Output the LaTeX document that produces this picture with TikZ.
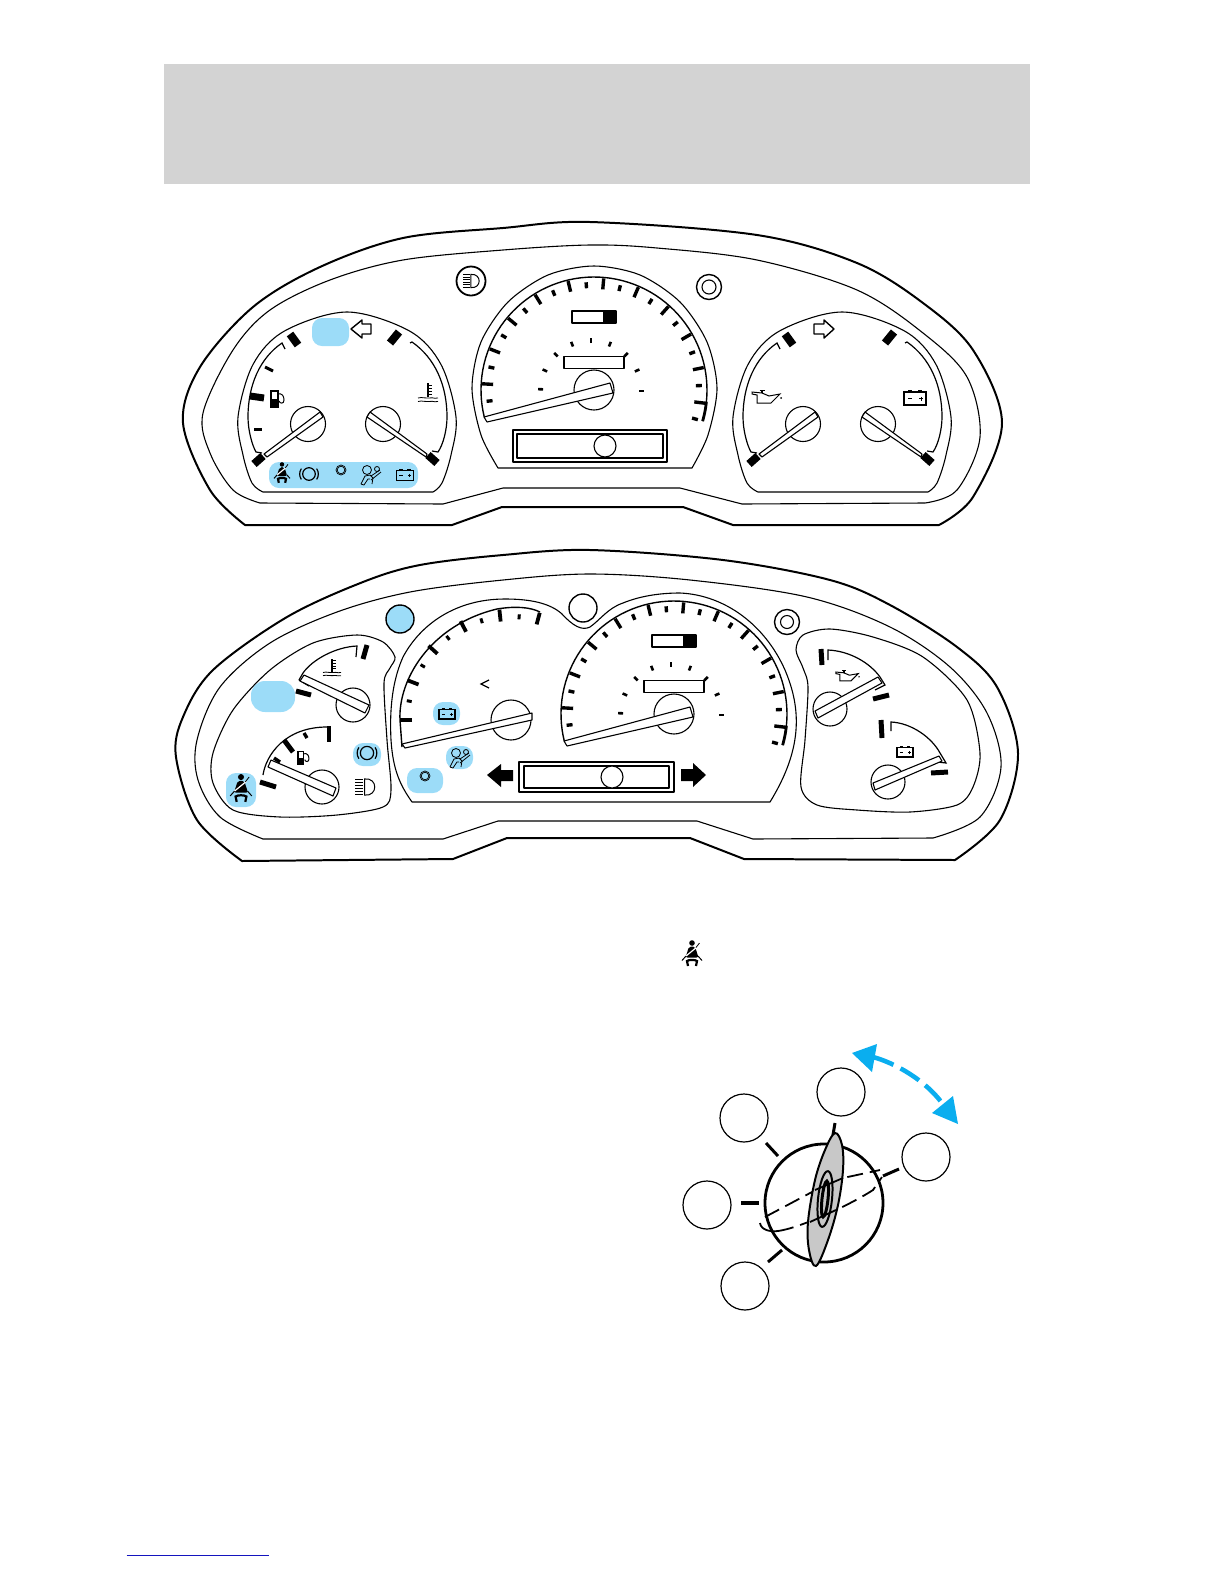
\documentclass[tikz,border=0pt]{standalone}
\usepackage{xcolor}
\usepackage{tikz}
\usetikzlibrary{arrows.meta}
\definecolor{corfaixa}{RGB}{211,211,211}
\definecolor{corazul}{RGB}{156,220,248}
\definecolor{corseta}{RGB}{10,174,239}
\definecolor{corcinza}{RGB}{200,200,200}
\definecolor{corlink}{RGB}{20,20,190}

\tikzset{
  contorno/.style={line width=1pt, line join=round},
  linha/.style={line width=.55pt, line join=round},
  eixo/.style={linha, fill=white},
  ponteiro/.style={linha, fill=white},
  escala/.style={line width=.6pt},
  marca/.style={line width=1.7pt},
  marcafina/.style={line width=1.5pt},
  bloco/.style={line width=4pt},
  fundoazul/.style={fill=corazul, rounded corners=5pt},
  raio/.style={line width=1.5pt},
  posicao/.style={circle, draw, line width=.6pt, minimum size=24bp, inner sep=0pt}
}

\newcommand{\cinto}[3]{\begin{scope}[shift={(#1,#2)},scale=#3]
  \fill (0,-12) circle (2.8);
  \fill[rounded corners=1pt] (-3,-8.5) -- (3,-8.5) -- (6.5,2.5) -- (-6.5,2.5) -- cycle;
  \draw[white,line width=.6pt] (-6,1) -- (5,-8);
  \draw[line width=.4pt] (4,-7.5) -- (7.5,-12);
  \draw[line width=.5pt] (-6,1) -- (-10,5.5);
  \draw[line width=.5pt] (6,1) -- (10,5.5);
  \draw[line width=1.1pt] (-4,11) -- (-5,6) .. controls (-3,4.5) and (3,4.5) .. (5,6) -- (4,11);
\end{scope}}
\newcommand{\freio}[3]{\begin{scope}[shift={(#1,#2)},scale=#3]
  \draw[line width=.6pt] (0,0) circle (7);
  \draw[line width=.6pt] (-8.5,6) arc[start angle=145,end angle=215,radius=10.4];
  \draw[line width=.6pt] (8.5,6) arc[start angle=35,end angle=-35,radius=10.4];
\end{scope}}
\newcommand{\abs}[2]{\draw[line width=.35pt] (#1,#2) circle (5); \draw[line width=.35pt] (#1,#2) circle (3.8);}
\newcommand{\bolsa}[3]{\begin{scope}[shift={(#1,#2)},scale=#3]
  \draw[line width=.4pt] (-4,-5) circle (4.5);
  \draw[line width=.4pt] (6,-6) circle (2.5);
  \draw[line width=.4pt] (-10,9) -- (-6,1) -- (-1,0) -- (2,3) -- (1,9);
  \draw[line width=.4pt] (-10,9) -- (-7,10) -- (-3,4) -- (-1,4);
  \draw[line width=.4pt] (0,1) -- (9,-5);
  \draw[line width=.4pt] (0,5) -- (10,-3);
\end{scope}}
\newcommand{\bateria}[3]{\begin{scope}[shift={(#1,#2)},scale=#3]
  \draw[line width=.6pt] (-11,-6) rectangle (11,7);
  \draw[line width=.8pt] (-7,-7) -- (-3,-7) (3,-7) -- (7,-7);
  \draw[line width=.5pt] (-7,0.5) -- (-3,0.5) (4,0.5) -- (8,0.5) (6,-1.5) -- (6,2.5);
\end{scope}}
\newcommand{\bomba}[3]{\begin{scope}[shift={(#1,#2)},scale=#3]
  \fill (-6.5,-.5) rectangle (1.5,8);
  \draw[line width=.6pt] (-6,-8) rectangle (1,8);
  \draw[line width=.5pt] (1,-5) .. controls (5,-6) and (7,-3) .. (7,1) .. controls (7,5) and (3,5) .. (2,2);
\end{scope}}
\newcommand{\termo}[3]{\begin{scope}[shift={(#1,#2)},scale=#3]
  \draw[line width=.7pt] (0,-10) -- (0,4);
  \draw[line width=.5pt] (0,-8) -- (4,-8) (0,-5) -- (4,-5) (0,-2) -- (4,-2) (0,1) -- (4,1);
  \draw[line width=.4pt] (-10,5) .. controls (-5,3.5) and (-3,6) .. (0,5) .. controls (3,3.5) and (5,6) .. (10,5);
  \draw[line width=.4pt] (-10,8.5) .. controls (-5,7) and (-3,9.5) .. (0,8.5) .. controls (3,7) and (5,9.5) .. (10,8.5);
\end{scope}}
\newcommand{\oleo}[3]{\begin{scope}[shift={(#1,#2)},scale=#3]
  \draw[line width=.5pt] (-14,-5) -- (-14,-3) -- (-9,-2) -- (-9,6) -- (5,6) -- (14,-3) -- (3,-1) -- (-4,-4) -- cycle;
  \draw[line width=.8pt] (-4,-6.5) -- (-4,-4);
  \draw[line width=.5pt] (-6.5,-6.5) -- (-1.5,-6.5);
  \fill (15,1) circle (1);
\end{scope}}
\newcommand{\farol}[3]{\begin{scope}[shift={(#1,#2)},scale=#3]
  \draw[line width=.5pt] (-1,-6) .. controls (9,-7) and (9,7) .. (-1,6) -- cycle;
  \foreach \yy in {-5.5,-3.2,-1,1.2,3.4,5.6}{\draw[line width=.5pt] (-8,\yy) -- (-2,\yy);}
\end{scope}}

\newcommand{\velocimetro}{
  \draw[line width=.7pt] plot[domain=194:-16,samples=70] ({594+113*cos(\x)},{390-113*sin(\x)});
  \draw[line width=1.4pt] plot[domain=-6:-16,samples=10] ({594+113*cos(\x)},{390-113*sin(\x)});
  \foreach \i in {0,...,22}{
    \pgfmathsetmacro\ang{186-9.18*\i}
    \ifodd\i
      \draw[marca] ({594+101*cos(\ang)},{390-101*sin(\ang)}) -- ({594+112*cos(\ang)},{390-112*sin(\ang)});
    \else
      \draw[marca] ({594+102*cos(\ang)},{390-102*sin(\ang)}) -- ({594+108*cos(\ang)},{390-108*sin(\ang)});
    \fi
  }
  \foreach \ang in {178,156,134,112,90,68,46,24,0}{
    \draw[line width=1.3pt] ({591+48*cos(\ang)},{391-48*sin(\ang)}) -- ({591+53*cos(\ang)},{391-53*sin(\ang)});
  }
  \draw[linha,line width=.7pt] (572,311) rectangle (616,323);
  \fill (603,311) rectangle (616,323);
  \draw[linha] (564,356.5) rectangle (624,368.5);
  \draw[eixo] (594,390) circle (20);
  \draw[ponteiro] (484,417) -- (487,422) -- (613,393) -- (610,383) -- cycle;
}

\newcommand{\capsula}{
  \draw[linha] plot[smooth,tension=.55] coordinates {(263,492) (252,483) (243,455) (238,417) (253,364.5) (284.5,331) (347,312) (409.5,331) (441,364.5) (456,417) (451,455) (442,483) (433,492)} -- cycle;
  \draw[escala] (285,349) -- (282,343) .. controls (260,358) and (248,385) .. (248,417) .. controls (248,430) and (252,445) .. (256,452) -- (262,453);
  \draw[escala] (410,343) -- (412,342) .. controls (435,358) and (447,385) .. (447,417) .. controls (447,430) and (443,445) .. (438,452) -- (432,451);
  \draw[bloco] (290,334) -- (298,345);
  \draw[bloco] (399,332) -- (390,343);
  \draw[bloco] (254,464) -- (263,456);
  \draw[bloco] (428,455) -- (437,463);
  \draw[eixo] (308,424) circle (17.5);
  \draw[eixo] (383,424) circle (17.5);
  \draw[ponteiro] (264,454) -- (267,457) -- (323,417) -- (320,412) -- cycle;
  \draw[ponteiro] (427,454) -- (426,457) -- (367,417) -- (370,412) -- cycle;
}

\begin{document}
\begin{tikzpicture}[x=.5bp,y=-.5bp]
  \useasboundingbox (0,0) rectangle (1224,1584);
  \fill[corfaixa] (164,64) rectangle (1030,184);

  \draw[contorno] plot[smooth,tension=.55] coordinates {(245,525) (210,490) (183,423) (200,367) (253,307) (320,267) (403,238) (503,228) (590,222) (757,235) (857,263) (923,303) (973,350) (1002,423) (973,497) (939,525)} -- (733,525) -- (683,507) -- (502,507) -- (452,525) -- cycle;
  \draw[linha] plot[smooth,tension=.55] coordinates {(260,503) (233,490) (210,453) (203,413) (233,350) (270,310) (330,280) (403,260) (503,250) (590,245) (657,248) (757,260) (857,290) (923,333) (967,377) (980,437) (957,490) (925,503)} -- (742,504) -- (680,488) -- (503,488) -- (443,504) -- cycle;

  \capsula
  \begin{scope}[shift={(495,0)}]
    \capsula
  \end{scope}
  \draw[marca,line width=3.5pt] (250,396) -- (264,398);
  \draw[marcafina] (254,429) -- (262,429);
  \draw[marcafina] (265,367) -- (273,371);

  \fill[fundoazul] (312,318) rectangle (349,346);
  \draw[linha,line width=.7pt] (351,329) -- (362,320) -- (362,324) -- (371,324) -- (371,334) -- (362,334) -- (362,338) -- cycle;
  \draw[linha,line width=.7pt] (834,329) -- (824,320) -- (824,324) -- (814,324) -- (814,334) -- (824,334) -- (824,338) -- cycle;
  \fill[fundoazul] (269,462) rectangle (418,488);
  \cinto{282}{474}{.8}
  \freio{309}{474}{.9}
  \abs{341}{470}
  \bolsa{371}{475}{1}
  \bateria{405}{475}{.8}
  \bomba{277}{399}{1}
  \termo{428}{393}{1}
  \oleo{766}{397}{1}
  \bateria{915}{398}{1}

  \draw[linha] plot[smooth,tension=.5] coordinates {(498,468) (481,435) (472,388) (481,342) (508,302) (548,275) (594,266) (640,275) (680,302) (707,342) (717,388) (708,435) (692,468)} -- cycle;
  \velocimetro
  \draw[linha,line width=.8pt] (513,430) rectangle (667,462);
  \draw[linha,line width=.9pt] (517,434) rectangle (663,458);
  \draw[eixo] (605,446) circle (11);
  \draw[line width=.9pt] (471,281) circle (14.5);
  \farol{472}{281}{1.1}
  \draw[line width=.7pt] (709,287) circle (12.5);
  \draw[linha] (709,287) circle (7);

  \draw[contorno] plot[smooth,tension=.55] coordinates {(242,861) (197,820) (176,757) (183,717) (213,670) (287,617) (363,582) (420,565) (503,555) (590,550) (723,560) (830,580) (890,605) (957,647) (997,687) (1018,753) (1000,820) (955,860)} -- (744,859) -- (690,838) -- (507,838) -- (453,859) -- cycle;
  \draw[linha] plot[smooth,tension=.55] coordinates {(263,839) (220,817) (198,780) (197,740) (220,687) (270,643) (337,612) (410,592) (503,580) (590,574) (690,580) (807,597) (890,627) (950,667) (987,713) (1001,767) (980,817) (933,838)} -- (753,839) -- (697,821) -- (498,821) -- (443,839) -- cycle;

  \draw[linha] plot[smooth cycle,tension=.5] coordinates {(357,635) (383,642) (395,657) (390,668) (384,683) (387,740) (391,790) (383,807) (337,815) (280,817) (233,810) (213,783) (213,753) (233,710) (270,670) (313,643)};
  \draw[linha] plot[smooth cycle,tension=.5] coordinates {(830,629) (803,635) (796,650) (803,668) (808,687) (805,740) (801,787) (817,805) (857,810) (910,812) (957,805) (973,787) (980,753) (967,700) (923,657) (873,637)};
  \draw[linha] (412,802) .. controls (400,785) and (393,770) .. (391,740) .. controls (389,700) and (395,675) .. (403,657) .. controls (420,625) and (455,599) .. (505,599) .. controls (530,599) and (550,603) .. (562,614) .. controls (573,626) and (582,631) .. (590,627) .. controls (600,620) and (608,608) .. (623,603) .. controls (640,596) and (660,593) .. (680,593) .. controls (725,595) and (765,625) .. (785,670) .. controls (802,710) and (802,750) .. (770,802) -- cycle;

  \draw[line width=.7pt] (402,747) -- (400,720) .. controls (398,680) and (430,625) .. (497,609) .. controls (515,606) and (530,607) .. (540,612);
  \foreach \i in {0,...,10}{
    \pgfmathsetmacro\ang{180-10.5*\i}
    \ifodd\i
      \draw[marcafina] ({511+101*cos(\ang)},{720-101*sin(\ang)}) -- ({511+106*cos(\ang)},{720-106*sin(\ang)});
    \else
      \draw[marca,line width=1.9pt] ({511+99*cos(\ang)},{720-99*sin(\ang)}) -- ({511+111*cos(\ang)},{720-111*sin(\ang)});
    \fi
  }
  \draw[line width=.6pt] (489,680) -- (481,684) -- (489,688);
  \draw[eixo] (511,720) circle (20);
  \draw[ponteiro] (402,744) -- (405,748) -- (532,720) -- (532,713) -- cycle;

  \begin{scope}[shift={(80,324)}]
    \velocimetro
  \end{scope}
  \draw[linha,line width=.8pt] (519,762) rectangle (674,792);
  \draw[linha,line width=.7pt] (524,766) rectangle (669,788);
  \draw[eixo] (612,777) circle (11);
  \fill (487,775) -- (501,764) -- (501,770) -- (513,770) -- (513,781) -- (501,781) -- (501,787) -- cycle;
  \fill (706,775) -- (693,763) -- (693,769) -- (681,769) -- (681,781) -- (693,781) -- (693,787) -- cycle;

  \draw[linha,fill=corazul,line width=.7pt] (400,619) circle (14);
  \draw[linha,line width=.7pt] (583,608) circle (14);
  \draw[line width=.7pt] (787,622) circle (12.5);
  \draw[linha] (787,622) circle (6.5);

  \fill[fundoazul,rounded corners=7pt] (251,681) rectangle (295,712);
  \fill[fundoazul] (433,702) rectangle (460,725);
  \bateria{447}{714}{.72}
  \fill[fundoazul] (446,746) rectangle (473,769);
  \bolsa{460}{758}{1}
  \fill[fundoazul] (407,768) rectangle (443,793);
  \abs{425}{776}
  \fill[fundoazul] (353,743) rectangle (381,766);
  \freio{367}{753}{.95}
  \farol{366}{787}{1.35}
  \fill[fundoazul] (226,773) rectangle (256,807);
  \cinto{241}{790}{1.08}

  \draw[escala] (299,680) -- (309,686);
  \draw[escala] (299,680) -- (303,673) .. controls (312,660) and (335,647) .. (357,646) -- (356,657);
  \draw[marca,line width=2.5pt] (296,691) -- (311,695);
  \draw[marca,line width=2.5pt] (367,645) -- (363,659);
  \termo{332}{668}{.9}
  \draw[eixo] (353,705) circle (17);
  \draw[ponteiro] (304,675) -- (300,681) -- (365,713) -- (369,705) -- cycle;

  \draw[escala] (263,775) .. controls (266,755) and (285,727) .. (327,727);
  \draw[marca,line width=2.5pt] (260,782) -- (276,787);
  \draw[marca,line width=2.5pt] (284,740) -- (293,752);
  \draw[marca] (304,733) -- (307,738);
  \draw[marca,line width=2.5pt] (329,726) -- (329,742);
  \draw[marca] (274,758) -- (280,762);
  \bomba{303}{758}{.85}
  \draw[eixo] (322,787) circle (17);
  \draw[ponteiro] (271,760) -- (268,767) -- (333,796) -- (336,788) -- cycle;

  \draw[escala] (828,660) -- (828,650) .. controls (850,651) and (870,663) .. (880,677) -- (885,685) -- (875,690);
  \draw[marca,line width=2.5pt] (821,649) -- (822,665);
  \draw[marca,line width=2.5pt] (873,699) -- (889,695);
  \oleo{847}{676}{.8}
  \draw[eixo] (830,709) circle (17);
  \draw[ponteiro] (878,677) -- (882,683) -- (818,718) -- (815,711) -- cycle;

  \draw[escala] (891,731) -- (891,722) .. controls (912,723) and (932,738) .. (940,753) -- (946,763) -- (937,762);
  \draw[marca,line width=2.5pt] (881,720) -- (882,738);
  \draw[marca,line width=2.5pt] (931,773) -- (948,772);
  \bateria{905}{752}{.72}
  \draw[eixo] (888,782) circle (17);
  \draw[ponteiro] (939,756) -- (942,761) -- (875,790) -- (873,783) -- cycle;

  \cinto{692}{955}{1}

  \node[posicao] (pos_a) at (841,1092) {};
  \node[posicao] (pos_b) at (744,1118) {};
  \node[posicao] (pos_c) at (926,1157) {};
  \node[posicao] (pos_d) at (707,1205) {};
  \node[posicao] (pos_e) at (745,1286) {};

  \draw[line width=1.4pt] (824,1203) circle (59);
  \draw[raio] (766,1143) -- (778,1156);
  \draw[raio,line width=2pt] (741,1203) -- (759,1203);
  \draw[raio] (768,1262) -- (782,1250);
  \draw[raio] (835,1123) -- (833,1135);
  \draw[raio] (899,1169) -- (883,1176);
  \draw[line width=.9pt,dash pattern=on 8pt off 3.5pt] (765,1217) -- (812,1192) -- (843,1178) -- (880,1170);
  \draw[line width=.9pt] (760,1223) .. controls (761,1230) and (770,1232) .. (778,1231);
  \draw[line width=.9pt,dash pattern=on 8pt off 3.5pt] (778,1231) .. controls (800,1228) and (850,1205) .. (873,1190) -- (882,1177);
  \draw[line width=1pt,fill=corcinza] plot[smooth cycle,tension=.6] coordinates {(835,1133) (842,1145) (843,1170) (838,1205) (828,1240) (816,1266) (809,1250) (808,1222) (815,1180) (825,1150)};
  \draw[line width=.9pt] (815,1190) -- (843,1178);
  \draw[line width=.9pt] (810,1222) -- (836,1210);
  \draw[line width=1pt,rotate around={84:(825,1199)}] (825,1199) ellipse (28 and 7);
  \draw[line width=1.5pt,rotate around={84:(825,1199)}] (825,1199) ellipse (18 and 3);

  \draw[line width=2.3pt,corseta,dash pattern=on 11pt off 4pt] (873,1057) .. controls (895,1063) and (925,1080) .. (942,1103);
  \fill[corseta] (852,1053) -- (877,1044) -- (872,1072) -- cycle;
  \fill[corseta] (958,1124) -- (953,1096) -- (932,1113) -- cycle;

  \draw[corlink,line width=.5pt] (126.5,1555) -- (268.5,1555);
\end{tikzpicture}
\end{document}
